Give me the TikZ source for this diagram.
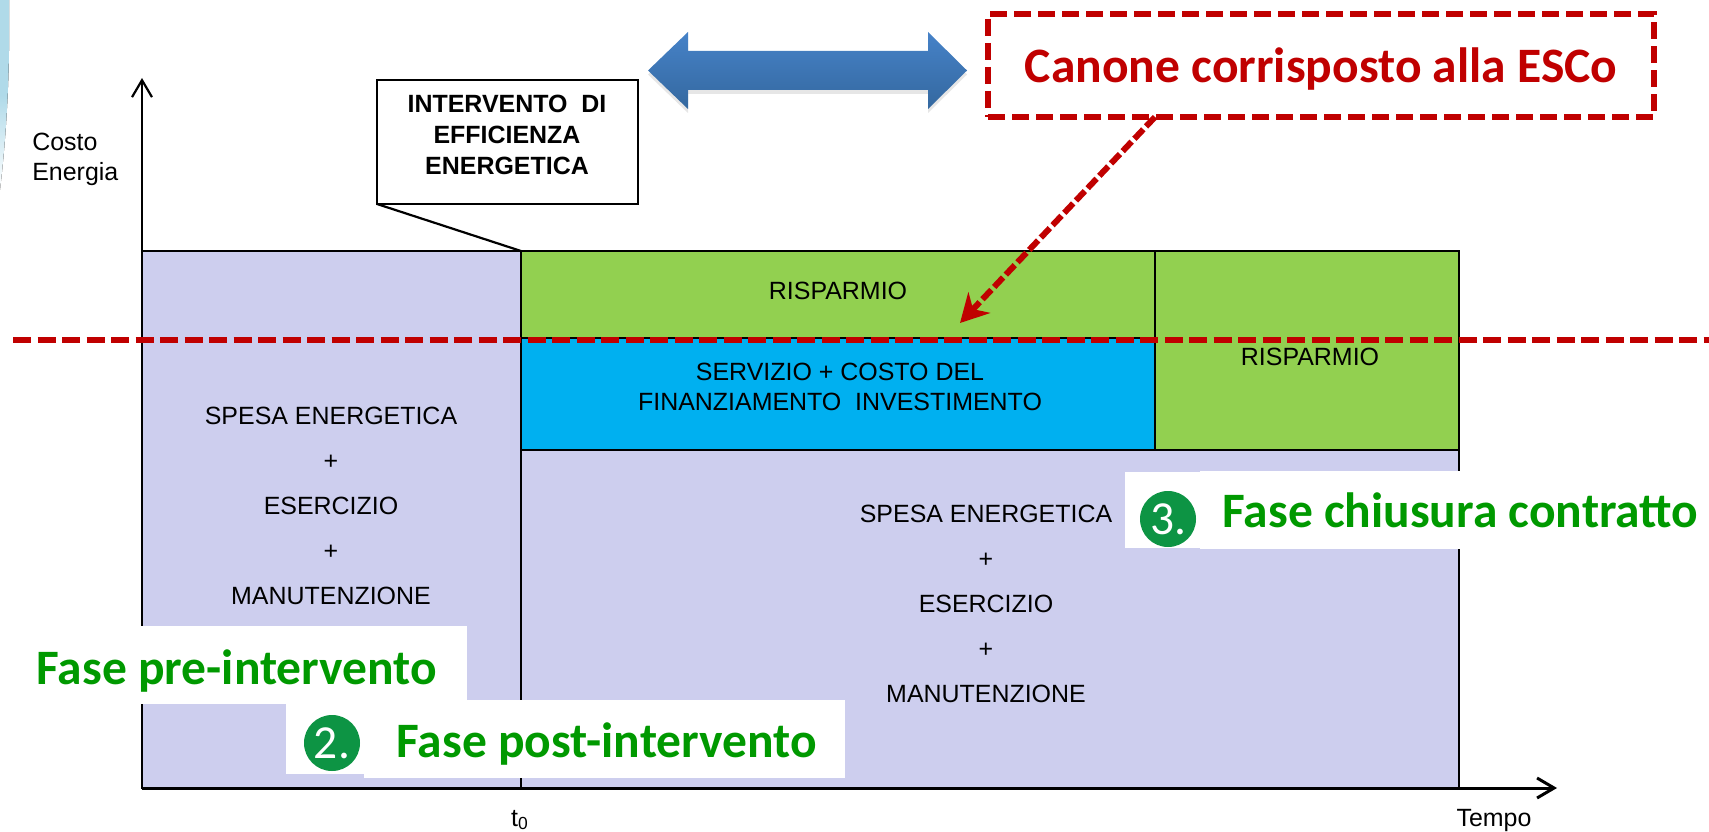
\documentclass[tikz,border=0pt]{standalone}
\usepackage{fontspec}
\setmainfont{Liberation Sans}
\newfontfamily\phasefont{Carlito}
\usetikzlibrary{arrows.meta,positioning,shadows}
\definecolor{lilac}{HTML}{CDCEEE}
\definecolor{leaf}{HTML}{92D050}
\definecolor{sky}{HTML}{00B0F0}
\definecolor{brick}{HTML}{C00000}
\definecolor{phase}{HTML}{009900}
\definecolor{badgegreen}{HTML}{0D9444}
\definecolor{arrowtop}{HTML}{4682C8}
\definecolor{arrowbottom}{HTML}{34689F}
\definecolor{corner}{HTML}{B0DAE9}
\def\u{0.02cm}
\tikzset{
  block/.style={draw=black,line width=2.2*\u,anchor=north west,inner sep=0pt,outer sep=0pt},
  label/.style={font=\fontsize{14.2}{25.7}\selectfont,align=center,inner sep=0pt},
  whitebox/.style={fill=white,anchor=north west,inner sep=0pt},
  phasetext/.style={font=\phasefont\bfseries\fontsize{28.2}{32}\selectfont,text=phase,anchor=base west,inner sep=0pt},
  badge/.style={circle,fill=badgegreen,text=white,minimum size=56*\u,inner sep=0pt,font=\phasefont\fontsize{27}{30}\selectfont},
  cutline/.style={draw=brick,line width=5.5*\u,dash pattern=on 18*\u off 6.5*\u},
}
\begin{document}
\begin{tikzpicture}[x=0.02cm,y=-0.02cm,>={Straight Barb[length=17*\u,width=20*\u]}]
\useasboundingbox (0,0) rectangle (1709,831);
% pale corner at the top left
\fill[top color=corner,bottom color=white,middle color=corner] (0,0) -- (9,0) .. controls (10,70) and (7,130) .. (0,190) -- cycle;
% blocks
\node[block,fill=lilac,minimum width=379*\u,minimum height=537*\u] (before) at (142,251) {};
\node[block,fill=lilac,minimum width=938*\u,minimum height=338*\u] (after) at (521,450) {};
\node[block,fill=leaf,minimum width=634*\u,minimum height=87*\u] (saving) at (521,251) {};
\node[block,fill=sky,minimum width=634*\u,minimum height=112*\u] (service) at (521,338) {};
\node[block,fill=leaf,minimum width=304*\u,minimum height=199*\u] (savingend) at (1155,251) {};
% axes
\coordinate (origin) at (142,788);
\coordinate (ytip) at (142,78);
\coordinate (xtip) at (1557,788);
\draw[->,line width=2.2*\u] (before.north west) -- (ytip);
\draw[->,line width=3*\u] (origin) -- (xtip);
% labels
\node[label,align=left,anchor=north west,font=\fontsize{14.2}{17.1}\selectfont] (ylabel) at (32,133) {Costo\\Energia};
\node[label,anchor=base] (tempo) at (1494,826) {Tempo};
\node[label,anchor=base] (tzero) at (520,826) {t\textsubscript{0}};
\node[label] (costbefore) at (331,506) {SPESA ENERGETICA\\+\\ESERCIZIO\\+\\MANUTENZIONE};
\node[label] (costafter) at (986,604) {SPESA ENERGETICA\\+\\ESERCIZIO\\+\\MANUTENZIONE};
\node[label] at (saving) [yshift=3.5*\u] (savingtext) {RISPARMIO};
\node[label] (savingendtext) at (1310,357) {RISPARMIO};
\node[label,font=\fontsize{14.2}{17.1}\selectfont] (servicetext) at (840,387) {SERVIZIO + COSTO DEL\\FINANZIAMENTO\ \ INVESTIMENTO};
% callout
\node[draw=black,line width=2.2*\u,fill=white,anchor=north west,minimum width=261*\u,minimum height=124*\u,inner sep=0pt,outer sep=0pt] (callout) at (377,80) {};
\node[label,font=\bfseries\fontsize{14.2}{17.7}\selectfont] (callouttext) at (507,135) {INTERVENTO\ \ DI\\EFFICIENZA\\ENERGETICA};
\draw[line width=2.2*\u] (callout.south west) -- (saving.north west);
% double arrow
\shade[top color=arrowtop,bottom color=arrowbottom,drop shadow={shadow xshift=0pt,shadow yshift=-0.08cm,opacity=.2}]
  (648,70.5) -- (688,32) -- (688,51) -- (928,51) -- (928,32) -- (967,70.5) -- (928,109) -- (928,90) -- (688,90) -- (688,109) -- cycle;
% canone box and dashed line
\coordinate (cutleft) at (13,340);
\coordinate (cutright) at (1709,340);
\draw[cutline] (cutleft) -- (cutright);
\node[draw=brick,line width=5.5*\u,dash pattern=on 17*\u off 7*\u,anchor=north west,minimum width=666*\u,minimum height=103*\u,inner sep=0pt,outer sep=0pt] (canone) at (988,14) {};
\node[inner sep=0pt,font=\phasefont\bfseries\fontsize{28.2}{32}\selectfont,text=brick] at (canone) [yshift=-4*\u] (canonetext) {Canone corrisposto alla ESCo};
\coordinate (canonetip) at (960,323);
\draw[cutline,line width=6*\u,dash pattern=on 13*\u off 4*\u,-{Stealth[length=28*\u,width=30*\u,inset=9*\u]}] (canone.south west -| 1155,117) -- (canonetip);
% phases
\node[whitebox,minimum width=467*\u,minimum height=78*\u] (prebox) at (0,626) {};
\node[phasetext] (pretext) at (36,684) {Fase pre-intervento};
\node[whitebox,minimum width=79*\u,minimum height=70*\u] (twobox) at (286,704) {};
\node[whitebox,minimum width=481*\u,minimum height=78*\u] (postbox) at (364,700) {};
\node[badge] (two) at (332,743) {2.};
\node[phasetext] (posttext) at (396,757) {Fase post-intervento};
\node[whitebox,minimum width=75*\u,minimum height=76*\u] (threebox) at (1125,472) {};
\node[whitebox,minimum width=260*\u,minimum height=78*\u] (closebox) at (1200,471) {};
\node[badge] (three) at (1168,519) {3.};
\node[phasetext] (closetext) at (1222,527) {Fase chiusura contratto};
\end{tikzpicture}
\end{document}
